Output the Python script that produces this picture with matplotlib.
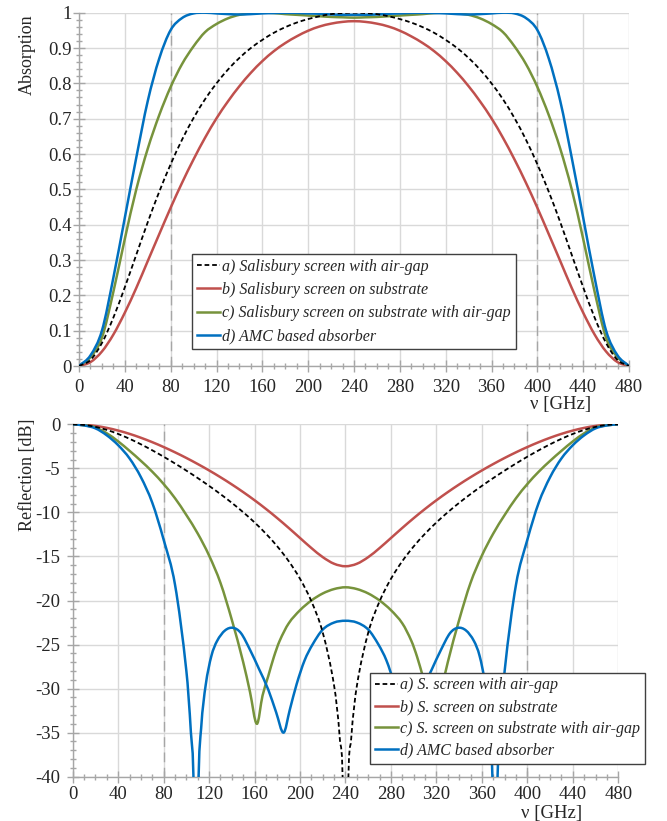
import matplotlib
matplotlib.use("Agg")
import matplotlib.pyplot as plt
from matplotlib.ticker import MultipleLocator, FuncFormatter
from matplotlib.path import Path
from matplotlib.patches import PathPatch
from matplotlib.lines import Line2D

plt.rcParams['font.family'] = ['Liberation Serif', 'DejaVu Serif']
plt.rcParams['axes.unicode_minus'] = False

# ---------------- data ----------------
freq = [0, 10, 20, 30, 40, 50, 60, 70, 80, 90, 100, 110, 120, 130, 140, 150, 160, 170, 180, 190,
        200, 210, 220, 230, 240, 250, 260, 270, 280, 290, 300, 310, 320, 330, 340, 350, 360, 370,
        380, 390, 400, 410, 420, 430, 440, 450, 460, 470, 480]

abs_a = [0.000, 0.017, 0.065, 0.137, 0.223, 0.315, 0.407, 0.493, 0.571, 0.641, 0.702, 0.755, 0.800,
         0.839, 0.872, 0.900, 0.923, 0.943, 0.959, 0.972, 0.982, 0.990, 0.996, 0.999, 1.000, 0.999,
         0.996, 0.990, 0.982, 0.972, 0.959, 0.943, 0.923, 0.900, 0.872, 0.839, 0.800, 0.755, 0.702,
         0.641, 0.571, 0.493, 0.407, 0.315, 0.223, 0.137, 0.065, 0.017, 0.000]
abs_b = [0.000, 0.011, 0.041, 0.089, 0.151, 0.221, 0.297, 0.373, 0.448, 0.519, 0.585, 0.646, 0.701,
         0.749, 0.792, 0.830, 0.863, 0.891, 0.914, 0.933, 0.949, 0.961, 0.969, 0.974, 0.976, 0.974,
         0.969, 0.961, 0.949, 0.933, 0.914, 0.891, 0.863, 0.830, 0.792, 0.749, 0.701, 0.646, 0.585,
         0.519, 0.448, 0.373, 0.297, 0.221, 0.151, 0.089, 0.041, 0.011, 0.000]
abs_c = [0.000, 0.025, 0.080, 0.210, 0.360, 0.500, 0.615, 0.710, 0.790, 0.855, 0.905, 0.945, 0.968,
         0.984, 0.994, 0.998, 1.000, 0.999, 0.996, 0.994, 0.992, 0.990, 0.988, 0.987, 0.986, 0.987,
         0.988, 0.990, 0.992, 0.994, 0.996, 0.999, 1.000, 0.998, 0.994, 0.984, 0.968, 0.945, 0.905,
         0.855, 0.790, 0.710, 0.615, 0.500, 0.360, 0.210, 0.080, 0.025, 0.000]
abs_d = [0.000, 0.030, 0.100, 0.250, 0.420, 0.590, 0.750, 0.870, 0.951, 0.985, 0.998, 1.000, 0.998,
         0.996, 0.995, 0.996, 0.998, 0.999, 0.9995, 0.9994, 0.998, 0.997, 0.995, 0.994, 0.994, 0.994,
         0.995, 0.997, 0.998, 0.9994, 0.9995, 0.999, 0.998, 0.996, 0.995, 0.996, 0.998, 1.000, 0.998,
         0.985, 0.951, 0.870, 0.750, 0.590, 0.420, 0.250, 0.100, 0.030, 0.000]

freq_a_db = [0, 10, 20, 30, 40, 50, 60, 70, 80, 90, 100, 110, 120, 130, 140, 150, 160, 170, 180, 190,
             200, 210, 220, 230, 235, 238, 240, 242, 245, 250, 260, 270, 280, 290, 300, 310, 320, 330,
             340, 350, 360, 370, 380, 390, 400, 410, 420, 430, 440, 450, 460, 470, 480]
refl_a = [0.0, -0.074, -0.291, -0.638, -1.096, -1.645, -2.270, -2.951, -3.680, -4.449, -5.258, -6.103,
          -6.990, -7.924, -8.917, -9.982, -11.139, -12.418, -13.859, -15.530, -17.537, -20.090, -23.650,
          -29.690, -35.7, -43.7, -80.0, -43.7, -35.7, -29.690, -23.650, -20.090, -17.537, -15.530,
          -13.859, -12.418, -11.139, -9.982, -8.917, -7.924, -6.990, -6.103, -5.258, -4.449, -3.680,
          -2.951, -2.270, -1.645, -1.096, -0.638, -0.291, -0.074, 0.0]

refl_b = [0.0, -0.046, -0.183, -0.406, -0.710, -1.086, -1.528, -2.028, -2.580, -3.179, -3.822, -4.509,
          -5.236, -6.008, -6.827, -7.697, -8.621, -9.606, -10.654, -11.760, -12.906, -14.045, -15.077,
          -15.831, -16.112, -15.831, -15.077, -14.045, -12.906, -11.760, -10.654, -9.606, -8.621,
          -7.697, -6.827, -6.008, -5.236, -4.509, -3.822, -3.179, -2.580, -2.028, -1.528, -1.086,
          -0.710, -0.406, -0.183, -0.046, 0.0]

freq_c_db = [0, 10, 20, 30, 40, 50, 60, 70, 80, 90, 100, 110, 120, 130, 140, 150, 156, 162, 167, 172,
             177, 182, 190, 200, 210, 220, 230, 240, 250, 260, 270, 280, 290, 298, 303, 308, 313, 318,
             324, 330, 340, 350, 360, 370, 380, 390, 400, 410, 420, 430, 440, 450, 460, 470, 480]
refl_c = [0.0, -0.11, -0.36, -1.02, -1.94, -3.01, -4.15, -5.38, -6.78, -8.39, -10.3, -12.4, -14.9,
          -18.0, -22.2, -27.0, -30.4, -34.0, -30.8, -28.6, -26.4, -24.6, -22.6, -21.1, -20.0, -19.2,
          -18.7, -18.5, -18.7, -19.2, -20.0, -21.1, -22.6, -24.6, -26.4, -28.6, -30.8, -34.0, -30.4,
          -27.0, -22.2, -18.0, -14.9, -12.4, -10.3, -8.39, -6.78, -5.38, -4.15, -3.01, -1.94, -1.02,
          -0.36, -0.11, 0.0]

freq_d_db = [0, 10, 20, 30, 40, 50, 60, 70, 80, 90, 100, 104, 106.5, 108.5, 110.5, 113, 117, 122, 127,
             134, 141, 148, 156, 164, 172, 179, 185.5, 191, 197, 204, 211, 220, 230, 240, 250, 260,
             269, 276, 283, 289, 294.5, 301, 308, 316, 324, 332, 339, 346, 353, 358, 363, 367, 369.5,
             371.5, 373.5, 376, 380, 390, 400, 410, 420, 430, 440, 450, 460, 470, 480]
refl_d = [0.0, -0.13, -0.46, -1.25, -2.37, -3.87, -6.0, -8.9, -13.1, -18.2, -28.0, -35.0, -42.0, -70.0,
          -42.0, -34.5, -29.6, -26.3, -24.6, -23.4, -23.1, -23.7, -25.6, -27.8, -30.1, -32.7, -35.0,
          -32.4, -29.5, -26.8, -25.0, -23.3, -22.5, -22.3, -22.5, -23.3, -25.0, -26.8, -29.5, -32.4,
          -35.0, -32.7, -30.1, -27.8, -25.6, -23.7, -23.1, -23.4, -24.6, -26.3, -29.6, -34.5, -42.0,
          -70.0, -42.0, -35.0, -28.0, -18.2, -13.1, -8.9, -6.0, -3.87, -2.37, -1.25, -0.46, -0.13, 0.0]

labels_top = ["a) Salisbury screen with air-gap",
              "b) Salisbury screen on substrate",
              "c) Salisbury screen on substrate with air-gap",
              "d) AMC based absorber"]
labels_bot = ["a) S. screen with air-gap",
              "b) S. screen on substrate",
              "c) S. screen on substrate with air-gap",
              "d) AMC based absorber"]
band_edges = [80, 400]

# ---------------- style ----------------
C_A, C_B, C_C, C_D = "#000000", "#C0504D", "#77933C", "#0070C0"
GRID = "#D9D9D9"
AXC = "#A6A6A6"
TXT = "#262626"
LW = 1.8
DASH_A = (2.6, 1.6)

W, H = 667, 821
fig = plt.figure(figsize=(W / 100, H / 100), dpi=100)


def px_axes(l, t, r, b):
    return fig.add_axes([l / W, 1 - b / H, (r - l) / W, (b - t) / H])


ax1 = px_axes(79, 12.7, 629, 366)
ax2 = px_axes(72.7, 424.3, 618.3, 776.7)


def smooth_line(ax, x, y, color, lw, dashes=None, z=3):
    """Draw the data points joined by a smoothed (cubic Bezier) line, like a spreadsheet
    'smoothed line' chart."""
    n = len(x)
    m = []
    for i in range(n):
        if i == 0:
            m.append((y[1] - y[0]) / (x[1] - x[0]))
        elif i == n - 1:
            m.append((y[-1] - y[-2]) / (x[-1] - x[-2]))
        else:
            m.append((y[i + 1] - y[i - 1]) / (x[i + 1] - x[i - 1]))
    verts = [(x[0], y[0])]
    codes = [Path.MOVETO]
    for i in range(n - 1):
        dx = x[i + 1] - x[i]
        verts += [(x[i] + dx / 3, y[i] + m[i] * dx / 3),
                  (x[i + 1] - dx / 3, y[i + 1] - m[i + 1] * dx / 3),
                  (x[i + 1], y[i + 1])]
        codes += [Path.CURVE4] * 3
    ls = (0, dashes) if dashes else "solid"
    patch = PathPatch(Path(verts, codes), fill=False, edgecolor=color, lw=lw,
                      linestyle=ls, zorder=z, capstyle="butt", joinstyle="round")
    ax.add_patch(patch)


def style(ax, ymaj, ymin, ypad, xpad):
    for s in ["top", "right"]:
        ax.spines[s].set_visible(False)
    for s in ["left", "bottom"]:
        ax.spines[s].set_color(AXC)
        ax.spines[s].set_linewidth(1.0)
    ax.xaxis.set_major_locator(MultipleLocator(40))
    ax.xaxis.set_minor_locator(MultipleLocator(10))
    ax.yaxis.set_major_locator(MultipleLocator(ymaj))
    ax.yaxis.set_minor_locator(MultipleLocator(ymin))
    ax.grid(True, which="major", color=GRID, lw=1.0, zorder=0)
    ax.set_axisbelow(True)
    ax.tick_params(which="major", direction="inout", length=8, width=1, color=AXC,
                   labelsize=13.5, labelcolor=TXT)
    ax.tick_params(which="minor", direction="inout", length=5, width=1, color=AXC)
    ax.tick_params(axis="x", which="major", pad=xpad)
    ax.tick_params(axis="y", which="major", pad=ypad)
    for x in band_edges:
        ax.axvline(x, color="#A6A6A6", lw=1.0, dashes=(7, 4), zorder=1)


def handles():
    return [Line2D([], [], color=C_A, lw=1.3, dashes=DASH_A),
            Line2D([], [], color=C_B, lw=LW),
            Line2D([], [], color=C_C, lw=LW),
            Line2D([], [], color=C_D, lw=LW)]


def leg_kw(spacing):
    return dict(loc="upper left", bbox_transform=fig.transFigure, borderaxespad=0,
                prop=dict(family="Liberation Serif", style="italic", size=11.5),
                frameon=True, fancybox=False, edgecolor="#404040", framealpha=1,
                handlelength=1.45, handletextpad=0.15, borderpad=0.3, labelspacing=spacing,
                labelcolor=TXT)


# ---- top: absorption ----
style(ax1, 0.1, 0.02, 1.5, 5)
smooth_line(ax1, freq, abs_b, C_B, LW)
smooth_line(ax1, freq, abs_c, C_C, LW)
smooth_line(ax1, freq, abs_d, C_D, LW, z=4)
smooth_line(ax1, freq, abs_a, C_A, 1.3, dashes=DASH_A, z=5)
ax1.set_xlim(0, 480)
ax1.set_ylim(0, 1)
ax1.yaxis.set_major_formatter(FuncFormatter(lambda v, p: f"{v:g}"))
ax1.set_ylabel("Absorption", fontsize=13, color=TXT)
ax1.yaxis.set_label_coords(-0.078, 0.88)
ax1.set_xlabel("ν [GHz]", fontsize=13.5, color=TXT)
ax1.xaxis.set_label_coords(0.875, -0.085)
lg1 = ax1.legend(handles(), labels_top, bbox_to_anchor=(192 / W, 1 - 254 / H), **leg_kw(0.45))
lg1.get_frame().set_linewidth(1.0)
lg1.set_zorder(10)

# ---- bottom: reflection ----
style(ax2, 5, 1, 5, 3)
smooth_line(ax2, freq, refl_b, C_B, LW)
smooth_line(ax2, freq_c_db, refl_c, C_C, LW)
smooth_line(ax2, freq_d_db, refl_d, C_D, LW, z=4)
smooth_line(ax2, freq_a_db, refl_a, C_A, 1.3, dashes=DASH_A, z=5)
ax2.set_xlim(0, 480)
ax2.set_ylim(-40, 0)
ax2.yaxis.set_major_formatter(FuncFormatter(lambda v, p: f"{v:g}"))
ax2.set_ylabel("Reflection [dB]", fontsize=13, color=TXT)
ax2.yaxis.set_label_coords(-0.067, 0.856)
ax2.set_xlabel("ν [GHz]", fontsize=13.5, color=TXT)
ax2.xaxis.set_label_coords(0.877, -0.081)
lg2 = ax2.legend(handles(), labels_bot, bbox_to_anchor=(370 / W, 1 - 672.7 / H), **leg_kw(0.36))
lg2.get_frame().set_linewidth(1.0)
lg2.set_zorder(10)

fig.savefig("out.png", dpi=100)
